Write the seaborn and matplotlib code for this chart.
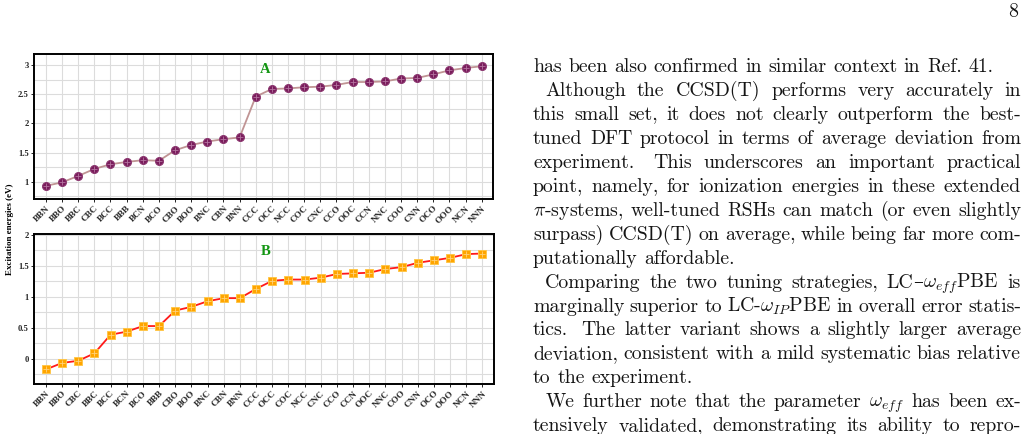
import numpy as np
import pandas as pd
import matplotlib
matplotlib.use("Agg")
import matplotlib.pyplot as plt
import seaborn as sns
from matplotlib.ticker import MultipleLocator, FixedLocator

# ---------------- data ----------------
labels_a = ["BBN", "BBO", "BBC", "CBC", "BCC", "BBB", "BCN", "BCO", "CBO", "BOO",
            "BNC", "CBN", "BNN", "CCC", "OCC", "NCC", "COC", "CNC", "CCO", "OOC",
            "CCN", "NNC", "COO", "CNN", "OCO", "OOO", "NCN", "NNN"]
values_a = [0.93, 0.99, 1.10, 1.22, 1.30, 1.34, 1.37, 1.36, 1.54, 1.63,
            1.69, 1.73, 1.76, 2.46, 2.59, 2.60, 2.62, 2.63, 2.66, 2.71,
            2.71, 2.72, 2.77, 2.78, 2.84, 2.91, 2.95, 2.98]

labels_b = ["BBN", "BBO", "CBC", "BBC", "BCC", "BCN", "BCO", "BBB", "CBO", "BOO",
            "BNC", "CBN", "BNN", "CCC", "OCC", "COC", "NCC", "CNC", "CCO", "CCN",
            "OOC", "NNC", "COO", "CNN", "OCO", "OOO", "NCN", "NNN"]
values_b = [-0.17, -0.065, -0.03, 0.09, 0.39, 0.44, 0.53, 0.53, 0.78, 0.84,
            0.93, 0.98, 0.98, 1.13, 1.26, 1.28, 1.28, 1.31, 1.37, 1.38,
            1.39, 1.45, 1.48, 1.55, 1.59, 1.63, 1.69, 1.70]

yticks_a = [1, 1.5, 2, 2.5, 3]
yticks_b = [0, 0.5, 1, 1.5, 2]
panel_tags = ["A", "B"]
ylabel_text = "Excitation energies (eV)"
page_number = "8"

body_lines = [
    ("has been also confirmed in similar context in Ref. 41.", False, False),
    ("Although the CCSD(T) performs very accurately in", True, True),
    ("this small set, it does not clearly outperform the best-", False, True),
    ("tuned DFT protocol in terms of average deviation from", False, True),
    ("experiment.  This underscores an important practical", False, True),
    ("point, namely, for ionization energies in these extended", False, True),
    (r"$\pi$-systems, well-tuned RSHs can match (or even slightly", False, True),
    ("surpass) CCSD(T) on average, while being far more com-", False, True),
    ("putationally affordable.", False, False),
    (r"Comparing the two tuning strategies, LC–$\omega_{eff}$PBE is", True, True),
    (r"marginally superior to LC-$\omega_{IP}$PBE in overall error statis-", False, True),
    ("tics.  The latter variant shows a slightly larger average", False, True),
    ("deviation, consistent with a mild systematic bias relative", False, True),
    ("to the experiment.", False, False),
    (r"We further note that the parameter $\omega_{eff}$ has been ex-", True, True),
    ("tensively validated, demonstrating its ability to repro-", False, True),
]

# ---------------- style ----------------
sns.set_theme(style="white")
plt.rcParams["font.family"] = ["Liberation Serif", "DejaVu Serif"]
plt.rcParams["mathtext.fontset"] = "cm"

W, H = 1029, 434
fig = plt.figure(figsize=(W / 100, H / 100), dpi=100)
fig.patch.set_facecolor("white")


def fx(px):
    return px / W


def fy(py):
    return 1 - py / H


def make_axes(left, top, right, bottom):
    return fig.add_axes([fx(left), fy(bottom), (right - left) / W, (bottom - top) / H])


ax_a = make_axes(34.3, 54.0, 493.3, 198.7)
ax_b = make_axes(34.3, 234.3, 494.0, 383.7)

xtick_font = dict(family="Liberation Serif", weight="bold", size=6.6)
ytick_font = dict(family="Liberation Serif", weight="bold", size=6.2)


def draw_panel(ax, labels, values, yticks, ylim, line_color, marker, ms,
               face, edge, inner, tag, tag_y):
    df = pd.DataFrame({"pos": np.arange(len(labels)), "val": values})
    sns.lineplot(data=df, x="pos", y="val", ax=ax, color=line_color, lw=1.3,
                 marker=marker, markersize=ms, markerfacecolor=face,
                 markeredgecolor=edge, markeredgewidth=0.7, zorder=3)
    sns.scatterplot(data=df, x="pos", y="val", ax=ax, marker="+", s=ms * ms * 0.55,
                    color=inner, linewidth=0.6, zorder=4)
    ax.set_xlim(-0.72, len(labels) - 1 + 0.72)
    ax.set_ylim(*ylim)
    ax.xaxis.set_major_locator(FixedLocator(list(range(len(labels)))))
    ax.set_xticklabels(labels, rotation=45, ha="right", rotation_mode="anchor",
                       **xtick_font)
    ax.yaxis.set_major_locator(FixedLocator(yticks))
    ax.set_yticklabels([f"{v:g}" for v in yticks], **ytick_font)
    ax.yaxis.set_minor_locator(MultipleLocator(0.25))
    ax.grid(which="both", axis="y", color="#dcdcdc", lw=0.8, zorder=0)
    ax.grid(which="major", axis="x", color="#dcdcdc", lw=0.8, zorder=0)
    ax.set_axisbelow(True)
    ax.tick_params(axis="both", which="major", length=2, width=0.6, pad=2,
                   color="black", left=True, bottom=True)
    ax.tick_params(axis="y", which="minor", length=0)
    ax.set_xlabel("")
    ax.set_ylabel("")
    for sp in ax.spines.values():
        sp.set_visible(True)
        sp.set_color("black")
        sp.set_linewidth(1.4)
    ax.text(0.503, tag_y, tag, transform=ax.transAxes, ha="center", va="center",
            color="#139613", fontsize=10.5, fontweight="bold", family="Liberation Serif")


draw_panel(ax_a, labels_a, values_a, yticks_a, (0.71, 3.19), "#c09494", "o", 5.8,
           "#7a1d5c", "#8e3a72", "#b473a0", panel_tags[0], 0.894)
draw_panel(ax_b, labels_b, values_b, yticks_b, (-0.40, 2.01), "#ff1a1a", "s", 5.4,
           "#ffa500", "#ffc64a", "#ffd27a", panel_tags[1], 0.888)

fig.text(fx(10.5), fy(229), ylabel_text, rotation=90, ha="center", va="center",
         fontsize=6.5, fontweight="bold", family="Liberation Serif", color="black")

# ---------------- body text (justified) ----------------
renderer = fig.canvas.get_renderer()
body_family = ["cmr10", "DejaVu Serif"]
dash_family = "DejaVu Serif"
text_color = "#151515"


def segments(word):
    # the en dash is missing from cmr10: draw it with another serif family
    if "–" not in word:
        return [(word, body_family)]
    head, tail = word.split("–", 1)
    segs = []
    if head:
        segs.append((head, body_family))
    segs.append(("–", dash_family))
    if tail:
        segs.append((tail, body_family))
    return segs


def measure_seg(s, fam, fs):
    t = fig.text(0, 0, s, fontsize=fs, family=fam)
    w = t.get_window_extent(renderer).width
    t.remove()
    return w


def measure(word, fs):
    return sum(measure_seg(s, f, fs) for s, f in segments(word))


def draw_word(word, x, y, fs):
    for s, f in segments(word):
        fig.text(fx(x), fy(y), s, ha="left", va="baseline", fontsize=fs,
                 family=f, color=text_color)
        x += measure_seg(s, f, fs)


def split_words(line):
    parts = line.split(" ")
    words, weights = [], []
    pending = 1.0
    for p in parts:
        if p == "":
            pending = 1.6
            continue
        if words:
            weights.append(pending)
        words.append(p)
        pending = 1.0
    return words, weights


col_left, col_right, indent = 533.0, 1021.0, 12.3
fs0 = 12.0
w0, g0 = split_words(body_lines[0][0])
nat = sum(measure(w, fs0) for w in w0) + sum(g0) * fs0 * 0.333 * 100 / 72
fs = fs0 * (995.0 - 533.0) / nat
space_px = fs * 0.333 * 100 / 72

base0, step = 72.5, 23.9
for k, (line, ind, just) in enumerate(body_lines):
    y = base0 + step * k
    x0 = col_left + (indent if ind else 0.0)
    words, weights = split_words(line)
    widths = [measure(w, fs) for w in words]
    if just and len(words) > 1:
        unit = (col_right - x0 - sum(widths)) / sum(weights)
    else:
        unit = space_px
    x = x0
    for i, (w, wd) in enumerate(zip(words, widths)):
        draw_word(w, x, y, fs)
        if i < len(weights):
            x += wd + unit * weights[i]

fig.text(fx(1013.5), fy(17), page_number, ha="center", va="baseline", fontsize=fs,
         family=body_family, color=text_color)

fig.savefig("out.png", dpi=100, facecolor="white")
